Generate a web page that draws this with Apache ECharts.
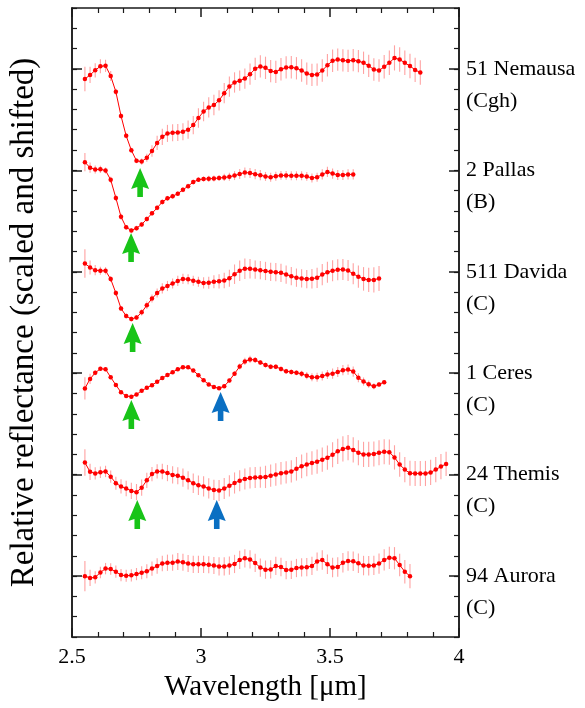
<!DOCTYPE html>
<html>
<head>
<meta charset="utf-8">
<script src="https://cdn.jsdelivr.net/npm/echarts@6/dist/echarts.min.js"></script>
<style>
	html, body { margin:0; padding:0; background:#fff; }
	#main { width:585px; height:708px; }
</style>
</head>
<body>
<div id="main"></div>
<script>
// wavelength grid [um], shared by all spectra (each spectrum stops where its data ends)
var wl = [
	2.55, 2.57, 2.59, 2.61, 2.63, 2.65, 2.67, 2.69, 2.71, 2.73,
	2.75, 2.77, 2.79, 2.81, 2.83, 2.85, 2.87, 2.89, 2.91, 2.93,
	2.95, 2.97, 2.99, 3.01, 3.03, 3.05, 3.07, 3.09, 3.11, 3.13,
	3.15, 3.17, 3.19, 3.21, 3.23, 3.25, 3.27, 3.29, 3.31, 3.33,
	3.35, 3.37, 3.39, 3.41, 3.43, 3.45, 3.47, 3.49, 3.51, 3.53,
	3.55, 3.57, 3.59, 3.61, 3.63, 3.65, 3.67, 3.69, 3.71, 3.73,
	3.75, 3.77, 3.79, 3.81, 3.83, 3.85, 3.87, 3.89, 3.91, 3.93,
	3.95
];

// shifted reflectance, one major tick (5 units) between spectra
var nemausa = [
	24.50, 24.70, 24.93, 25.13, 25.15, 24.65, 23.87, 22.68, 21.70, 20.99,
	20.47, 20.43, 20.62, 20.95, 21.35, 21.65, 21.82, 21.85, 21.86, 21.90,
	22.00, 22.23, 22.58, 22.90, 23.10, 23.22, 23.45, 23.80, 24.13, 24.33,
	24.42, 24.52, 24.74, 25.00, 25.12, 25.05, 24.89, 24.85, 24.98, 25.07,
	25.08, 25.03, 24.92, 24.77, 24.70, 24.72, 24.92, 25.18, 25.40, 25.46,
	25.42, 25.39, 25.43, 25.38, 25.30, 25.15, 24.97, 24.92, 25.10, 25.30,
	25.54, 25.46, 25.30, 25.14, 24.95, 24.82
];
var nemausaErr = [
	0.60, 0.40, 0.35, 0.35, 0.30, 0.25, 0.15, 0.12, 0.12, 0.12,
	0.12, 0.15, 0.20, 0.28, 0.35, 0.40, 0.42, 0.42, 0.42, 0.42,
	0.45, 0.45, 0.48, 0.48, 0.50, 0.50, 0.50, 0.50, 0.50, 0.50,
	0.50, 0.50, 0.52, 0.55, 0.55, 0.55, 0.55, 0.55, 0.55, 0.55,
	0.55, 0.55, 0.55, 0.55, 0.55, 0.55, 0.55, 0.55, 0.55, 0.55,
	0.55, 0.55, 0.55, 0.55, 0.55, 0.55, 0.55, 0.55, 0.58, 0.60,
	0.62, 0.60, 0.60, 0.60, 0.60, 0.60
];

var pallas = [
	20.40, 20.13, 20.04, 20.05, 19.99, 19.53, 18.64, 17.71, 17.19, 17.04,
	17.15, 17.33, 17.60, 17.88, 18.15, 18.44, 18.62, 18.72, 18.85, 19.04,
	19.22, 19.42, 19.54, 19.57, 19.58, 19.60, 19.62, 19.65, 19.68, 19.74,
	19.82, 19.89, 19.87, 19.81, 19.76, 19.70, 19.66, 19.71, 19.75, 19.75,
	19.73, 19.73, 19.73, 19.70, 19.62, 19.66, 19.80, 19.92, 19.84, 19.77,
	19.77, 19.80, 19.80
];
var pallasErr = [
	0.45, 0.25, 0.20, 0.18, 0.15, 0.15, 0.15, 0.15, 0.12, 0.12,
	0.12, 0.12, 0.12, 0.12, 0.12, 0.12, 0.12, 0.12, 0.12, 0.12,
	0.12, 0.12, 0.12, 0.12, 0.15, 0.15, 0.15, 0.18, 0.20, 0.22,
	0.25, 0.25, 0.25, 0.25, 0.25, 0.22, 0.22, 0.22, 0.22, 0.22,
	0.22, 0.22, 0.22, 0.22, 0.22, 0.22, 0.25, 0.25, 0.25, 0.25,
	0.25, 0.25, 0.25
];

var davida = [
	15.41, 15.21, 15.08, 15.05, 15.05, 14.64, 13.95, 13.19, 12.82, 12.67,
	12.75, 13.00, 13.35, 13.68, 13.95, 14.18, 14.30, 14.42, 14.55, 14.65,
	14.63, 14.56, 14.51, 14.45, 14.46, 14.51, 14.53, 14.57, 14.68, 14.88,
	15.05, 15.15, 15.15, 15.11, 15.08, 15.04, 15.00, 14.98, 14.95, 14.86,
	14.78, 14.71, 14.67, 14.64, 14.66, 14.70, 14.86, 14.98, 15.05, 15.10,
	15.11, 15.06, 14.90, 14.76, 14.65, 14.60, 14.60, 14.67
];
var davidaErr = [
	0.70, 0.35, 0.25, 0.20, 0.18, 0.15, 0.15, 0.12, 0.12, 0.12,
	0.12, 0.15, 0.18, 0.20, 0.22, 0.25, 0.25, 0.25, 0.25, 0.25,
	0.25, 0.25, 0.25, 0.28, 0.30, 0.32, 0.35, 0.38, 0.42, 0.48,
	0.50, 0.50, 0.48, 0.45, 0.45, 0.45, 0.45, 0.45, 0.45, 0.45,
	0.45, 0.45, 0.45, 0.45, 0.48, 0.50, 0.52, 0.52, 0.52, 0.52,
	0.52, 0.52, 0.52, 0.55, 0.58, 0.60, 0.62, 0.62
];

var ceres = [
	9.25, 9.72, 10.02, 10.22, 10.20, 9.80, 9.42, 9.06, 8.88, 8.84,
	8.95, 9.14, 9.28, 9.41, 9.58, 9.76, 9.91, 10.05, 10.20, 10.30,
	10.29, 10.14, 9.90, 9.65, 9.45, 9.32, 9.26, 9.36, 9.64, 9.98,
	10.33, 10.58, 10.68, 10.65, 10.53, 10.40, 10.32, 10.32, 10.21, 10.10,
	10.06, 10.02, 9.97, 9.88, 9.80, 9.80, 9.86, 9.94, 9.98, 10.06,
	10.15, 10.18, 10.08, 9.78, 9.59, 9.46, 9.36, 9.45, 9.56
];
var ceresErr = [
	0.55, 0.25, 0.12, 0.10, 0.10, 0.10, 0.08, 0.08, 0.08, 0.08,
	0.08, 0.08, 0.08, 0.08, 0.08, 0.08, 0.08, 0.08, 0.08, 0.08,
	0.08, 0.08, 0.08, 0.08, 0.08, 0.08, 0.08, 0.08, 0.10, 0.12,
	0.15, 0.18, 0.18, 0.15, 0.12, 0.12, 0.12, 0.12, 0.12, 0.12,
	0.12, 0.12, 0.15, 0.18, 0.20, 0.22, 0.22, 0.22, 0.25, 0.25,
	0.25, 0.25, 0.25, 0.22, 0.20, 0.18, 0.15, 0.12, 0.10
];

var themis = [
	5.60, 5.14, 5.06, 5.12, 5.16, 4.90, 4.58, 4.42, 4.32, 4.20,
	4.14, 4.36, 4.72, 5.03, 5.16, 5.16, 5.08, 4.99, 4.95, 4.85,
	4.72, 4.58, 4.48, 4.42, 4.32, 4.25, 4.22, 4.32, 4.45, 4.59,
	4.70, 4.79, 4.84, 4.86, 4.87, 4.89, 4.95, 5.01, 5.07, 5.11,
	5.16, 5.29, 5.41, 5.50, 5.58, 5.64, 5.74, 5.84, 5.98, 6.15,
	6.27, 6.33, 6.22, 6.08, 6.00, 6.00, 6.02, 6.08, 6.13, 6.11,
	5.85, 5.50, 5.25, 5.07, 5.06, 5.06, 5.06, 5.11, 5.25, 5.40,
	5.53
];
var themisErr = [
	0.65, 0.40, 0.30, 0.28, 0.28, 0.30, 0.32, 0.35, 0.38, 0.40,
	0.40, 0.40, 0.38, 0.35, 0.35, 0.38, 0.40, 0.42, 0.42, 0.45,
	0.45, 0.48, 0.48, 0.50, 0.50, 0.50, 0.52, 0.52, 0.52, 0.52,
	0.52, 0.52, 0.52, 0.52, 0.52, 0.55, 0.55, 0.55, 0.55, 0.55,
	0.55, 0.58, 0.58, 0.58, 0.58, 0.60, 0.60, 0.60, 0.62, 0.62,
	0.62, 0.62, 0.62, 0.62, 0.62, 0.62, 0.62, 0.62, 0.62, 0.62,
	0.60, 0.60, 0.62, 0.62, 0.62, 0.62, 0.62, 0.62, 0.62, 0.62,
	0.60
];

var aurora = [
	0.00, -0.09, -0.06, 0.18, 0.37, 0.35, 0.22, 0.05, 0.02, 0.04,
	0.10, 0.17, 0.24, 0.37, 0.50, 0.62, 0.66, 0.66, 0.72, 0.68,
	0.62, 0.58, 0.58, 0.58, 0.56, 0.52, 0.48, 0.48, 0.52, 0.60,
	0.80, 0.88, 0.82, 0.65, 0.42, 0.32, 0.33, 0.50, 0.45, 0.30,
	0.31, 0.40, 0.43, 0.44, 0.50, 0.72, 0.80, 0.58, 0.42, 0.45,
	0.66, 0.74, 0.73, 0.64, 0.52, 0.51, 0.53, 0.62, 0.80, 0.90,
	0.88, 0.55, 0.22, 0.00
];
var auroraErr = [
	0.75, 0.40, 0.30, 0.28, 0.28, 0.28, 0.30, 0.30, 0.30, 0.30,
	0.30, 0.32, 0.35, 0.35, 0.38, 0.38, 0.40, 0.40, 0.42, 0.42,
	0.42, 0.42, 0.42, 0.42, 0.42, 0.42, 0.45, 0.45, 0.45, 0.45,
	0.45, 0.45, 0.45, 0.45, 0.45, 0.45, 0.45, 0.45, 0.45, 0.45,
	0.45, 0.45, 0.45, 0.45, 0.45, 0.45, 0.48, 0.48, 0.48, 0.48,
	0.48, 0.48, 0.48, 0.48, 0.48, 0.48, 0.48, 0.50, 0.52, 0.55,
	0.55, 0.55, 0.58, 0.60
];

// labels on the right axis, at the baseline of each spectrum
var labelTicks = [0, 5, 10, 15, 20, 25];
var labelNames = ['94 Aurora', '24 Themis', '1 Ceres', '511 Davida', '2 Pallas', '51 Nemausa'];
var labelTypes = ['(C)', '(C)', '(C)', '(C)', '(B)', '(Cgh)'];

// absorption band arrows: [wavelength, tip position]
var greenArrows = [[2.764, 20.11], [2.729, 16.91], [2.735, 12.48], [2.730, 8.68], [2.753, 3.75]];
var blueArrows = [[3.076, 9.07], [3.061, 3.75]];

var FONT = 'Liberation Serif';
var AXIS_COLOR = '#1a1a1a';
var ARROW = 'path://M9,0L18,21L11.8,19L11.8,29L6.2,29L6.2,19L0,21Z';

var chart = echarts.init( document.getElementById( 'main' ), null, {renderer:'canvas'} );

var pairs = function(vals){
	var out = [];
	for( var i = 0; i < vals.length; i++ ){
		out.push( [wl[i], vals[i]] );
	}
	return out;
};

var errorSeries = function(vals, errs){
	var data = [];
	for( var i = 0; i < vals.length; i++ ){
		data.push( [wl[i], vals[i] - errs[i], vals[i] + errs[i]] );
	}
	return {
		type:'custom',
		xAxisIndex:0,
		yAxisIndex:0,
		silent:true,
		z:1,
		encode:{x:0, y:[1, 2]},
		renderItem:function(params, api){
			var lo = api.coord( [api.value( 0 ), api.value( 1 )] );
			var hi = api.coord( [api.value( 0 ), api.value( 2 )] );
			return {
				type:'line',
				shape:{x1:lo[0], y1:lo[1], x2:hi[0], y2:hi[1]},
				style:{stroke:'rgba(255,70,70,0.5)', lineWidth:1.1}
			};
		},
		data:data
	};
};

var arrowMarks = function(list, color){
	var out = [];
	for( var i = 0; i < list.length; i++ ){
		out.push( {coord:list[i], itemStyle:{color:color}} );
	}
	return out;
};

var spectrumSeries = function(vals, marks){
	var s = {
		type:'line',
		xAxisIndex:0,
		yAxisIndex:0,
		data:pairs( vals ),
		symbol:'circle',
		symbolSize:4.5,
		showSymbol:true,
		lineStyle:{color:'#ff0000', width:1},
		itemStyle:{color:'#ff0000'},
		z:3,
		silent:true
	};
	if( marks ){
		s.markPoint = {
			symbol:ARROW,
			symbolSize:[18, 29],
			symbolOffset:[0, '50%'],
			label:{show:false},
			silent:true,
			data:marks
		};
	}
	return s;
};

var xAxis = function(pos, labels){
	return {
		type:'value',
		position:pos,
		min:2.5,
		max:4,
		interval:0.5,
		axisLine:{show:true, onZero:false, lineStyle:{color:AXIS_COLOR, width:1.5}},
		axisTick:{show:true, inside:true, length:9, lineStyle:{color:AXIS_COLOR, width:1.5}},
		minorTick:{show:true, splitNumber:5, length:5, lineStyle:{color:AXIS_COLOR, width:1.2}},
		splitLine:{show:false},
		minorSplitLine:{show:false},
		axisLabel:{show:labels, fontFamily:FONT, fontSize:22, color:'#000', margin:9},
		name:labels ? 'Wavelength [μm]' : '',
		nameLocation:'middle',
		nameGap:36,
		nameTextStyle:{fontFamily:FONT, fontSize:29, color:'#000'}
	};
};

var yAxis = function(pos, major){
	var ax = {
		type:'value',
		position:pos,
		min:-3,
		max:28,
		interval:1,
		axisLine:{show:true, onZero:false, lineStyle:{color:AXIS_COLOR, width:1.5}},
		axisTick:{show:true, inside:true, length:major ? 10 : 5, lineStyle:{color:AXIS_COLOR, width:major ? 1.5 : 1.2}},
		splitLine:{show:false},
		axisLabel:{show:false}
	};
	if( major ){
		ax.axisTick.customValues = labelTicks;
	}
	return ax;
};

var yLeftMajor = yAxis( 'left', true );
yLeftMajor.name = 'Relative reflectance (scaled and shifted)';
yLeftMajor.nameLocation = 'middle';
yLeftMajor.nameGap = 31;
yLeftMajor.nameTextStyle = {fontFamily:FONT, fontSize:33, color:'#000'};

var yRightMajor = yAxis( 'right', true );
yRightMajor.axisLabel = {
	show:true,
	customValues:labelTicks,
	fontFamily:FONT,
	fontSize:22,
	lineHeight:32,
	color:'#000',
	margin:7,
	formatter:function(val){
		var i = labelTicks.indexOf( Math.round( val ) );
		if( i < 0 ){
			return '';
		}
		return ' \n' + labelNames[i] + '\n' + labelTypes[i];
	}
};

var series = [
	errorSeries( nemausa, nemausaErr ),
	errorSeries( pallas, pallasErr ),
	errorSeries( davida, davidaErr ),
	errorSeries( ceres, ceresErr ),
	errorSeries( themis, themisErr ),
	errorSeries( aurora, auroraErr ),
	spectrumSeries( nemausa, arrowMarks( greenArrows, '#18c418' ) ),
	spectrumSeries( pallas, arrowMarks( blueArrows, '#0a6fc2' ) ),
	spectrumSeries( davida ),
	spectrumSeries( ceres ),
	spectrumSeries( themis ),
	spectrumSeries( aurora )
];

chart.setOption( {
	animation:false,
	backgroundColor:'#fff',
	grid:{left:71, right:126, top:8, bottom:71, containLabel:false},
	xAxis:[xAxis( 'bottom', true ), xAxis( 'top', false )],
	yAxis:[yAxis( 'left', false ), yLeftMajor, yAxis( 'right', false ), yRightMajor],
	series:series
} );
</script>
</body>
</html>
